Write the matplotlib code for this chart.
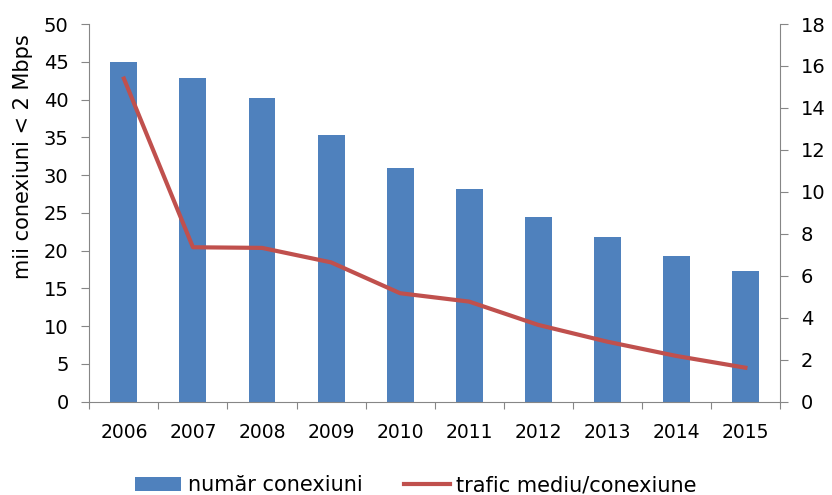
import matplotlib.pyplot as plt
import numpy as np

years = ['2006', '2007', '2008', '2009', '2010', '2011', '2012', '2013', '2014', '2015']
conexiuni = [45.0, 42.8, 40.2, 35.3, 31.0, 28.1, 24.5, 21.8, 19.3, 17.3]
trafic = [15.4, 7.36, 7.33, 6.64, 5.17, 4.77, 3.66, 2.86, 2.18, 1.62]

plt.rcParams['font.family'] = ['DejaVu Sans']
grey = '#868686'

fig = plt.figure(figsize=(8.32, 4.95), dpi=100)
ax = fig.add_axes([0.1074, 0.1885, 0.83, 0.763])
x = np.arange(len(years))
bars = ax.bar(x, conexiuni, width=0.39, color='#4F81BD', label='număr conexiuni', zorder=2)
ax.set_xlim(-0.5, len(years) - 0.5)
ax.set_ylim(0, 50)
ax.set_yticks(np.arange(0, 51, 5))
ax.set_ylabel('mii conexiuni < 2 Mbps', fontsize=15)
ax.yaxis.set_label_coords(-0.0815, 0.648)

ax2 = ax.twinx()
line, = ax2.plot(x, trafic, color='#C0504D', linewidth=3, label='trafic mediu/conexiune', zorder=3)
ax2.set_ylim(0, 18)
ax2.set_yticks(np.arange(0, 19, 2))

# category labels between boundary ticks
ax.set_xticks(np.arange(-0.5, len(years), 1))
ax.set_xticklabels([])
ax.set_xticks(x, minor=True)
ax.set_xticklabels(years, minor=True, fontsize=13.5)
ax.tick_params(axis='x', which='minor', length=0, pad=15)
ax.tick_params(axis='x', which='major', length=5, color=grey, direction='out')

for a in (ax, ax2):
    a.spines['top'].set_visible(False)
    for s in ('left', 'right', 'bottom'):
        a.spines[s].set_color(grey)
    a.tick_params(axis='y', labelsize=14, length=6, color=grey, direction='out', pad=9)
ax.spines['right'].set_visible(False)
ax2.spines['left'].set_visible(False)
ax2.spines['bottom'].set_visible(False)

fig.legend(handles=[bars, line], loc='center', bbox_to_anchor=(0.5, 0.02),
           ncol=2, frameon=False, fontsize=15, handlelength=2.2, columnspacing=2.0,
           handletextpad=0.3, borderpad=0)

fig.savefig('out.png', dpi=100)
